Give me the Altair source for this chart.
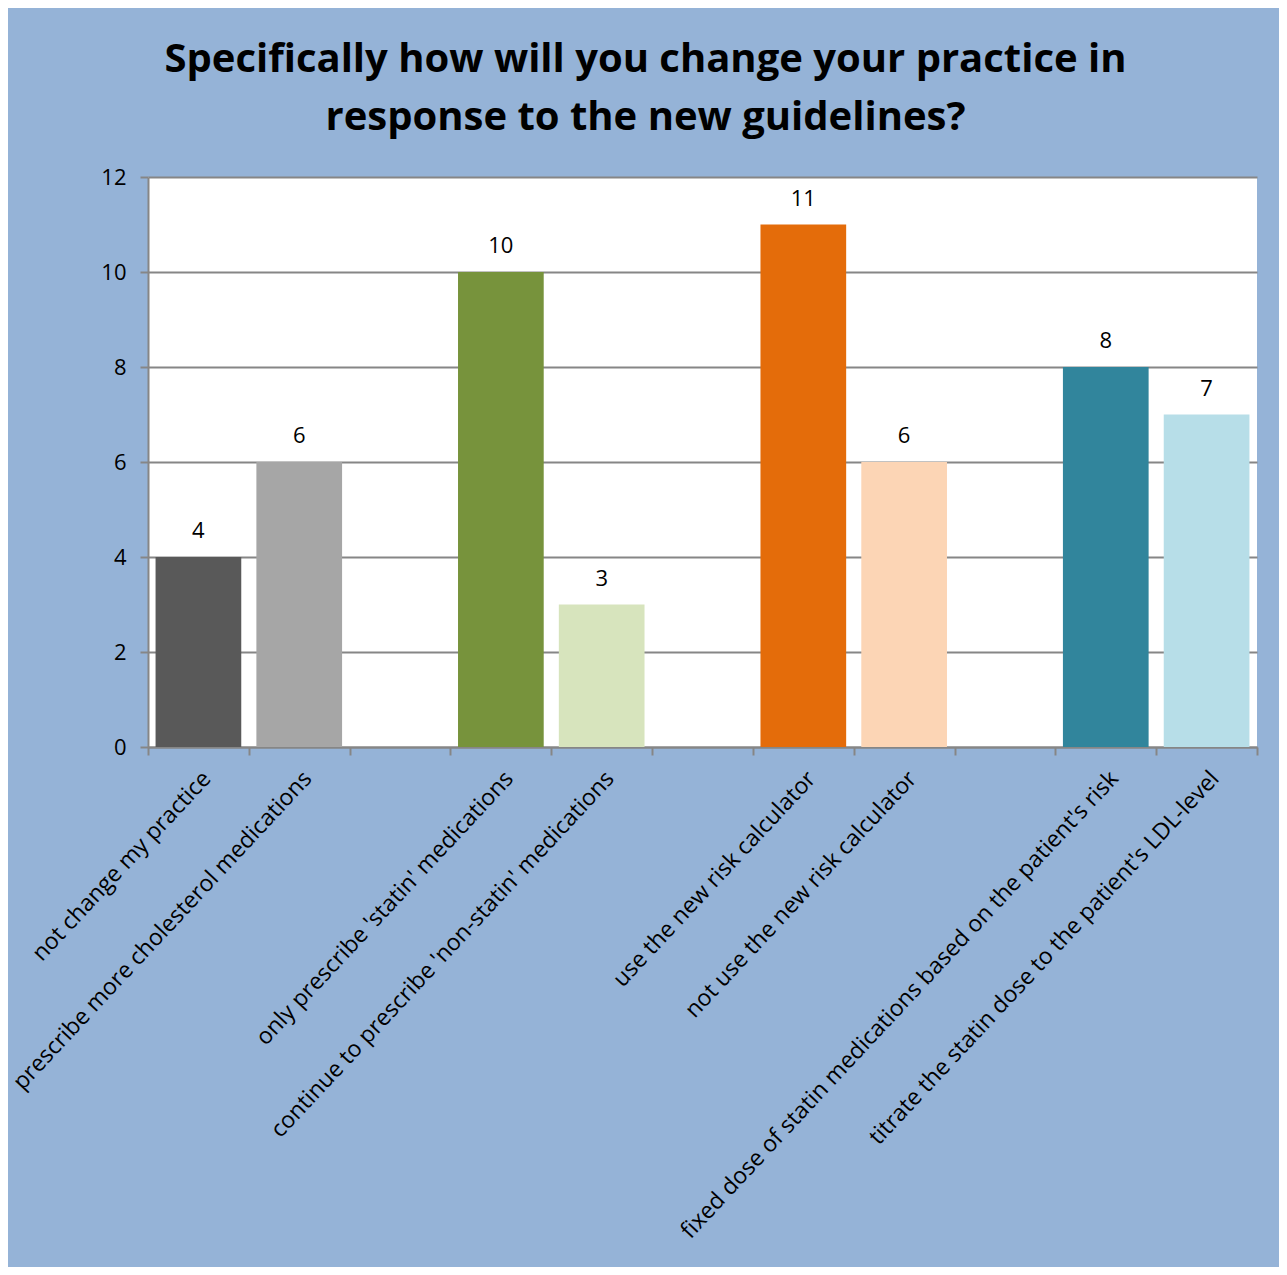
import altair as alt
import pandas as pd

categories = [
    "not change my practice",
    "prescribe more cholesterol medications",
    " ",
    "only prescribe 'statin' medications",
    "continue to prescribe 'non-statin' medications",
    "  ",
    "use the new risk calculator",
    "not use the new risk calculator",
    "   ",
    "fixed dose of statin medications based on the patient's risk",
    "titrate the statin dose to the patient's LDL-level",
]
bar_categories = [
    "not change my practice",
    "prescribe more cholesterol medications",
    "only prescribe 'statin' medications",
    "continue to prescribe 'non-statin' medications",
    "use the new risk calculator",
    "not use the new risk calculator",
    "fixed dose of statin medications based on the patient's risk",
    "titrate the statin dose to the patient's LDL-level",
]
values = [4, 6, 10, 3, 11, 6, 8, 7]
colors = ["#595959", "#A6A6A6", "#77933C", "#D7E4BD",
          "#E46C0A", "#FCD5B5", "#31859C", "#B7DEE8"]

df = pd.DataFrame({"cat": bar_categories, "val": values, "color": colors})

FONT = "Open Sans"

x = alt.X(
    "cat:N",
    sort=categories,
    scale=alt.Scale(domain=categories, paddingInner=0, paddingOuter=0),
    axis=alt.Axis(
        title=None,
        labelAngle=-47,
        labelAlign="right",
        labelBaseline="top",
        labelFont=FONT,
        labelFontSize=23,
        labelColor="black",
        labelLimit=900,
        labelPadding=12,
        tickBand="extent",
        tickSize=8,
        tickColor="#868686",
        tickWidth=2,
        domainColor="#868686",
        domainWidth=2,
        grid=False,
    ),
)

y = alt.Y(
    "val:Q",
    scale=alt.Scale(domain=[0, 12]),
    axis=alt.Axis(
        title=None,
        values=[0, 2, 4, 6, 8, 10, 12],
        labelFont=FONT,
        labelFontSize=22,
        labelColor="black",
        labelPadding=14,
        tickSize=8,
        tickColor="#868686",
        tickWidth=2,
        domainColor="#868686",
        domainWidth=2,
        gridColor="#868686",
        gridWidth=2,
    ),
)

bars = alt.Chart(df).mark_bar(width=alt.RelativeBandSize(0.85)).encode(
    x=x,
    y=y,
    color=alt.Color("color:N", scale=None),
)

text = alt.Chart(df).mark_text(
    baseline="bottom", dy=-14, font=FONT, fontSize=22, color="black"
).encode(
    x=alt.X("cat:N", sort=categories),
    y=alt.Y("val:Q"),
    text=alt.Text("val:Q"),
)

chart = alt.layer(bars, text).properties(
    width=1109,
    height=570,
    background="#95B3D7",
    autosize=alt.AutoSizeParams(type="none"),
    padding={"left": 140, "top": 169, "right": 22, "bottom": 520},
    title=alt.TitleParams(
        text=["Specifically how will you change your practice in",
              "response to the new guidelines?"],
        font=FONT,
        fontSize=40,
        fontWeight="bold",
        color="black",
        anchor="middle",
        frame="group",
        dx=-57,
        lineHeight=58,
        offset=28,
    ),
).configure_view(
    fill="white",
    stroke=None,
)

chart.save("out.html", embed_options={"renderer": "svg", "actions": False})
